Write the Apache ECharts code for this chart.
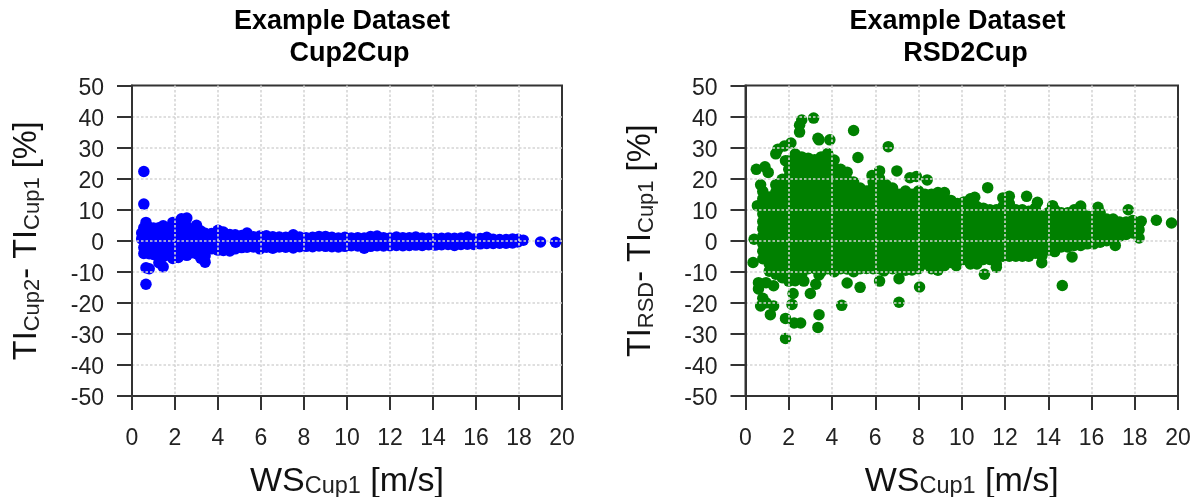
<!DOCTYPE html>
<html><head><meta charset="utf-8">
<style>html,body{margin:0;padding:0;background:#fff}#c{width:1201px;height:497px}</style>
<script src="https://cdn.jsdelivr.net/npm/echarts@6/dist/echarts.min.js"></script>
</head><body><div id="c"></div>
<script>
const xTicks = [0,2,4,6,8,10,12,14,16,18,20];
const yTicks = [-50,-40,-30,-20,-10,0,10,20,30,40,50];

// Each row: wind speed, then the TI differences read at that speed
const blueLow = [
[0.45,2.5,0.6],[0.55,22.3,11.8,4.2,-2.2,-4.1],[0.65,5.9,3.1,-1.1,-3.4,-8.7,-14],[0.8,4.3,2.2,-0.9,-2.9,-4.2,-9],
[1.0,4.1,1.8,-0.5,-2.6,-4.4],[1.25,4.2,1.6,-0.8,-3,-5.2,-7.1],[1.45,4.8,2.2,-0.4,-2.9,-5.1,-8.4],[1.7,4.1,1.7,-0.9,-3.2,-4.6],
[1.9,5.9,3.2,0.8,-1.6,-4,-5.7],[2.15,4.8,2.6,0.2,-2.1,-4.4,-5.4],[2.3,7.1,4.4,1.7,-0.8,-3.1,-4.2],[2.55,7.3,4.6,1.9,-0.6,-3,-4.7],
[2.75,3.2,0.9,-1.4,-3.9],[3.0,5,2.7,0.3,-2,-4.2],[3.2,3.1,0.7,-1.8,-4.6,-5.6],[3.4,2.4,0,-2.3,-4.8,-6.9],
[3.7,2.3,-0.2,-2.6],[4.0,3.4,1,-1.3,-3],[4.25,2.8,0.4,-2.1,-3.1],[4.55,2,-0.5,-3.3],[4.8,1.9,-0.4,-2.6]
];
const blueMid = [
[5.1,1.7,-0.3,-2.2],[5.35,2.5,0,-2.1],[5.65,1.3,-0.4,-2],[5.95,1.5,-0.2,-2.6],[6.25,1.6,-0.3,-2.1],[6.55,1.3,-0.4,-2.4],
[6.85,1.2,-0.2,-2],[7.15,1.1,-0.3,-2.1],[7.5,1.9,0,-2.3],[7.8,1.2,-0.4,-1.9],[8.1,1,-0.3,-1.8],[8.4,1.1,-0.2,-1.9],
[8.7,1.4,-0.3,-1.7],[9.0,1.4,-0.2,-1.8],[9.3,1.1,-0.4,-1.9],[9.6,0.9,-0.3,-2],[9.9,1.1,-0.2,-1.8],[10.2,0.9,-0.4,-1.6],
[10.5,1,-0.3,-1.7],[10.8,0.9,-0.2,-2.4],[11.1,1.4,-0.3,-1.8],[11.4,1.5,-0.2,-1.6],[11.7,1,-0.3,-1.7]
];
const blueHigh = [
[12.0,0.9,-0.3,-1.6],[12.3,1.2,-0.3,-1.5],[12.6,1,-0.2,-1.6],[12.9,1,-0.3,-1.5],[13.2,1.2,-0.2,-1.4],[13.5,0.9,-0.3,-1.5],
[13.8,0.8,-0.2,-1.3],[14.1,0.7,-0.3,-1.4],[14.4,0.8,-0.2,-1.3],[14.7,0.9,-0.3,-1.2],[15.0,0.8,-0.2,-1.5],[15.3,0.9,-0.3,-1.2],
[15.6,1.2,-0.2,-1.1],[15.9,0.6,-0.3,-1.2],[16.2,0.7,-0.3,-1],[16.5,1.1,-0.2,-0.9],[16.8,0.5,-0.3,-0.9],[17.1,0.4,-0.4,-0.8],
[17.4,0.4,-0.3,-0.8],[17.7,0.6,-0.3,-0.7],[17.95,0.5,-0.4],[18.2,0.2],[19.0,-0.4],[19.7,-0.5]
];

const greenLow = [
[0.8,-5.8,-3.4,-1,1.5,3.9,6.2,8.6,11,13.5,15.9],
[1.1,-9.8,-7.5,-5.1,-2.6,-0.2,2.3,4.6,7.1,9.4,11.9,14.1],
[1.4,-10.8,-8.3,-6,-3.7,-1.2,1.1,3.5,6,8.4,10.7,13.1,15.6,18],
[1.7,-11.9,-9.6,-7.1,-4.8,-2.4,0,2.5,4.8,7.3,9.6,12.1,14.4,16.9,19.8],
[2.0,-13,-10.6,-8.2,-5.9,-3.4,-1.1,1.4,3.7,6.2,8.5,11,13.3,15.8,18.1,20.6,23,25.8],
[2.3,-12.9,-11.1,-9,-6.7,-4.2,-1.9,0.6,2.9,5.4,7.7,10.2,12.5,15,17.3,19.8,22.1,24.6,27.9],
[2.6,-10.9,-8.4,-6.1,-3.6,-1.3,1.2,3.5,6,8.3,10.8,13.1,15.6,17.9,20.4,22.7,25.1,27],
[2.9,-9,-6.8,-4.4,-2,0.4,2.8,5.1,7.6,9.9,12.4,14.7,17.2,19.5,22,24.3,26.6],
[3.2,-8.9,-6.5,-4.2,-1.7,0.6,3.1,5.4,7.9,10.2,12.7,15,17.5,19.8,22.3,24.5,26.1],
[3.5,-10,-7.6,-5.3,-2.8,-0.5,2,4.3,6.8,9.1,11.6,13.9,16.4,18.7,21.2,23.5,25.9,27],
[3.8,-9,-6.6,-4.1,-1.8,0.7,3,5.5,7.8,10.3,12.6,15.1,17.4,19.9,22.2,24.7,28.1],
[4.1,-10,-7.7,-5.2,-2.9,-0.4,1.9,4.4,6.7,9.2,11.5,14,16.3,18.8,21.1,23.6,26],
[4.4,-9,-6.6,-4.2,-1.8,0.6,3,5.4,7.8,10.2,12.6,15,17.4,19.8,23],
[4.7,-9.1,-6.8,-4.3,-2,0.5,2.8,5.3,7.6,10.1,12.4,14.9,17.2,19.6,22.1],
[5.0,-10,-7.7,-5.2,-2.9,-0.4,1.9,4.4,6.7,9.2,11.5,14,16.5,18.9],
[5.3,-9,-6.6,-4.1,-1.8,0.7,3,5.5,7.8,10.3,12.6,15,17],
[5.6,-8.9,-6.5,-4.2,-1.7,0.6,3.1,5.4,7.9,10.2,12.7,14.6,16]
];
const greenMid = [
[5.9,-9,-6.7,-4.2,-1.9,0.6,2.9,5.4,7.7,10.2,12.5,15,17.2,19],
[6.2,-9,-6.5,-4.2,-1.7,0.6,3.1,5.4,7.9,10.2,12.7,15,17.5,20],
[6.5,-8.9,-6.6,-4.1,-1.8,0.7,3,5.5,7.8,10.3,12.6,15.1,18],
[6.8,-9,-6.5,-4.2,-1.7,0.6,3.1,5.4,7.9,10.2,12.7,15,17],
[7.1,-8.9,-6.6,-4.1,-1.8,0.7,3,5.5,7.8,10.3,12.6,15],
[7.4,-9.5,-7,-4.7,-2.2,0.1,2.6,4.9,7.4,9.7,12.2,14.3,16],
[7.7,-9.4,-7.1,-4.6,-2.3,0.2,2.5,5,7.3,9.8,12.1,15],
[8.0,-9,-6.5,-4.2,-1.7,0.6,3.1,5.4,7.9,10.2,12.7,14.5,16],
[8.3,-7.5,-5.1,-2.7,-0.3,2.1,4.5,6.9,9.3,11.7,15],
[8.6,-9,-6.7,-4.2,-1.9,0.6,2.9,5.4,7.7,10.2,12.5,15],
[8.9,-9.5,-7,-4.7,-2.2,0.1,2.6,4.9,7.4,9.7,12.2,13.9,15.5],
[9.2,-8,-5.7,-3.2,-0.9,1.6,3.9,6.4,8.7,11.2,13.3,15.5],
[9.5,-7,-4.6,-2.2,0.2,2.6,5,7.4,9.8,11.6,13],
[9.8,-6.5,-4.1,-1.7,0.7,3.1,5.5,7.9,10.3,12],
[10.1,-6,-3.6,-1.2,1.2,3.6,6,8.4,10.8,12.5],
[10.4,-7.5,-5.1,-2.7,-0.3,2.1,4.5,6.9,9.3,11.7,13.5],
[10.7,-7.5,-5.2,-2.7,-0.4,2.1,4.4,6.9,9.2,11],
[11.0,-6,-3.6,-1.2,1.2,3.6,6,8.2,10.5],
[11.3,-6,-3.7,-1.2,1.1,3.6,5.9,8.1,10],
[11.6,-7.5,-5.1,-2.7,-0.3,2.1,4.5,6.9,10]
];
const greenHigh = [
[11.9,-5,-2.6,-0.2,2.2,4.6,7,9.2,11],
[12.2,-5,-2.7,-0.2,2.1,4.6,6.9,9.4,12],
[12.5,-5,-2.6,-0.3,2.2,4.5,7,8.6,10],
[12.8,-5,-2.7,-0.2,2.1,4.6,6.9,8.5,10],
[13.1,-5,-2.6,-0.3,2.2,4.5,7,9.5],
[13.4,-4,-1.6,0.8,3.2,5.6,8,10.5],
[13.7,-5,-2.7,-0.2,2.1,4.4,6.3,8],
[14.0,-3,-0.7,1.8,4.1,6.6,9],
[14.3,-3.5,-1.1,1.3,3.7,6.1,8.2,10],
[14.6,-2,0.4,2.8,5.2,7.2,9],
[14.9,-2,0.3,2.7,5,7,9],
[15.2,-1.5,0.9,3.3,5.7,8,10],
[15.5,-1.5,0.8,3.2,5.6,8,10],
[15.8,-1,1.3,3.6,5.9,8],
[16.1,-1,1.4,3.7,5.8,8],
[16.4,-0.5,1.9,4.2,6.6,9],
[16.7,0,2.3,4.7,7],
[17.0,0.5,2.8,5,7],
[17.3,1.5,3.6,6],
[17.6,2,4.1,6],
[17.9,2.5,4.6,6.5],
[18.2,3.5,5.5]
];
// Isolated points as [wind speed, TI difference]
const greenOutliers = [
[2.6,38.9],[3.15,39.5],[2.5,37.2],[2.5,35],[3.4,32.5],[3.35,33],[3.9,32.5],[5,35.5],[5.2,26.8],[6.6,30.3],
[7,22.5],[6.2,22.5],[5.85,21],[7.6,20.3],[7.9,20.7],[8.4,19.6],[11.2,17.1],[13,14.3],[12.2,14.3],[11.9,13.8],
[10.6,14],[13.5,12.4],[14.2,11.3],[15.5,11.2],[16.3,10.8],[17.7,10],[18.3,6.3],[19,6.6],[19.7,5.7],[18.2,0.9],
[17.1,-1.5],[15.1,-5.2],[14.65,-14.4],[13.7,-7.1],[11.05,-10.8],[11.6,-8.5],[9.75,-8],[8.05,-14.9],[7.1,-12.2],[7.1,-19.8],
[6.2,-13],[6.4,-9.7],[5.3,-15],[4.7,-13.6],[4.45,-20.8],[3.4,-11],[3.25,-14],[3,-17],[2.7,-13],[2.2,-17],
[2.15,-20.5],[3.4,-23.8],[3.35,-27.9],[2.55,-26.5],[2.25,-26.5],[1.85,-25],[1.85,-31.5],[1.15,-23.8],[1.3,-21],[0.7,-21],
[0.95,-20],[0.8,-18.5],[0.6,-15.5],[0.6,-13.5],[0.95,-13.5],[1.3,-14.5],[0.35,-7],[0.4,0.5],[0.55,11.3],[0.7,18],
[0.5,23],[0.9,23.8],[1.05,22],[1.4,28],[1.5,29.5],[1.8,30.5],[2.1,31.5],[1.85,25.8]
];

const expand = rows => rows.flatMap(r => r.slice(1).map(v => [r[0], v]));
const blueData = expand([...blueLow, ...blueMid, ...blueHigh]);
const greenData = [...expand([...greenLow, ...greenMid, ...greenHigh]), ...greenOutliers];

const FONT = '"Liberation Sans", Arial, sans-serif';
const richX = {
  b:{fontFamily:FONT,fontSize:34,color:'#111',lineHeight:36,verticalAlign:'bottom'},
  s:{fontFamily:FONT,fontSize:23.5,color:'#222',lineHeight:36,verticalAlign:'bottom',padding:[20,0,0,0]}
};
const richY = {
  b:{fontFamily:FONT,fontSize:32.5,color:'#111',lineHeight:36,verticalAlign:'bottom'},
  s:{fontFamily:FONT,fontSize:22,color:'#222',lineHeight:36,verticalAlign:'bottom',padding:[24,0,0,0]}
};
const grids = [{left:132,top:85.5,width:430,height:310.5},{left:745.5,top:85.5,width:432.5,height:310.5}];
const dotted = {show:true,showMinLine:false,showMaxLine:false,lineStyle:{color:'#d5d5d5',type:[2.5,2],width:1.6}};
const mkX = (i) => ({gridIndex:i,type:'value',min:0,max:20,interval:2,z:3,
  name:'{b|WS}{s|Cup1}{b| [m/s]}',nameLocation:'middle',nameGap:59,nameTextStyle:{rich:richX},
  axisLine:{show:true,onZero:false,lineStyle:{color:'#333',width:2}},
  axisTick:{show:true,inside:false,length:14,lineStyle:{color:'#333',width:2}},
  axisLabel:{fontFamily:FONT,fontSize:23,color:'#222',margin:31,showMinLabel:true,showMaxLabel:true,hideOverlap:false},
  splitLine:dotted});
const mkY = (i,sub) => ({gridIndex:i,type:'value',min:-50,max:50,interval:10,z:3,
  name:'{b|TI}{s|'+sub+'}{b|- TI}{s|Cup1}{b| [%]}',nameLocation:'middle',nameRotate:90,nameGap:88,nameTextStyle:{rich:richY},
  axisLine:{show:true,onZero:false,lineStyle:{color:'#333',width:2}},
  axisTick:{show:true,inside:false,length:15,lineStyle:{color:'#333',width:2}},
  axisLabel:{margin:28,showMinLabel:true,showMaxLabel:true,hideOverlap:false,
    formatter:v=>'{v|'+v+'}',
    rich:{v:{fontFamily:FONT,fontSize:23,color:'#222',lineHeight:26,padding:[6,0,0,0]}}},
  splitLine:dotted});
const ttl = (t,x,y) => ({text:t,left:x,top:y,textAlign:'center',textVerticalAlign:'middle',
  textStyle:{fontFamily:FONT,fontWeight:'bold',fontSize:27,color:'#000'}});
const chart = echarts.init(document.getElementById('c'),null,{renderer:'canvas'});
chart.setOption({
  animation:false,backgroundColor:'#fff',
  title:[ttl('Example Dataset',337,17),ttl('Cup2Cup',344.5,49),ttl('Example Dataset',952.5,17),ttl('RSD2Cup',960.5,49)],
  grid:grids.map(g=>({...g,show:true,borderColor:'#333',borderWidth:2,backgroundColor:'transparent',containLabel:false,outerBoundsMode:'none'})),
  xAxis:[mkX(0),mkX(1)],
  yAxis:[mkY(0,'Cup2'),mkY(1,'RSD')],
  series:[
   {type:'scatter',xAxisIndex:0,yAxisIndex:0,data:blueData,symbol:'circle',symbolSize:11.5,z:2,clip:false,itemStyle:{color:'#0000ff',opacity:1}},
   {type:'scatter',xAxisIndex:1,yAxisIndex:1,data:greenData,symbol:'circle',symbolSize:11.5,z:2,clip:false,itemStyle:{color:'#008000',opacity:1}}
  ]
});
</script></body></html>
